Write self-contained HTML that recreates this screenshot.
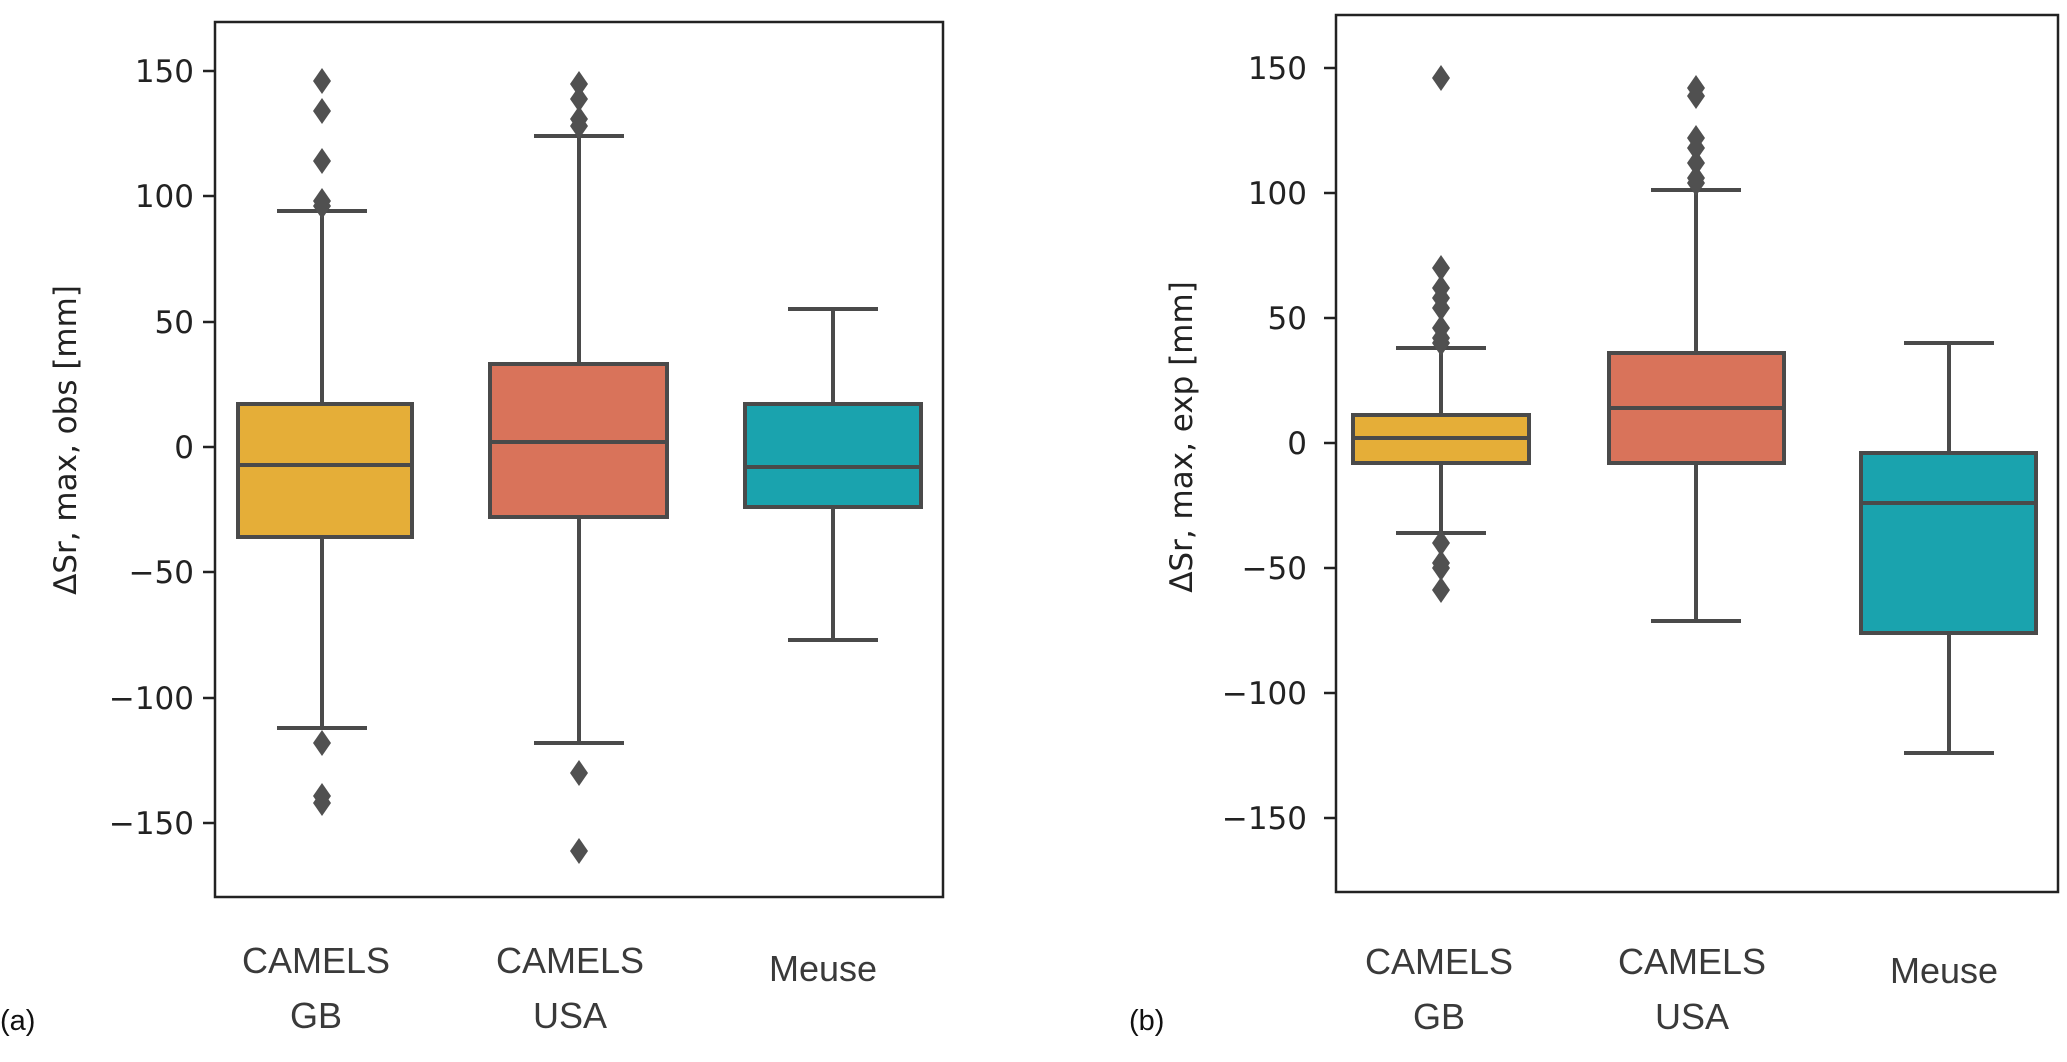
<!DOCTYPE html>
<html><head><meta charset="utf-8"><style>
html,body{margin:0;padding:0;background:#fff;}
svg text{font-family:"Liberation Sans",sans-serif;}
svg text.dv{font-family:"DejaVu Sans",sans-serif;}
</style></head><body>
<svg width="2067" height="1057" viewBox="0 0 2067 1057" xmlns="http://www.w3.org/2000/svg">
<defs>
<path id="d" d="M0,-13 L9,0 L0,13 L-9,0 Z" fill="#505050"/>
</defs>
<g stroke="#4a4a4a" stroke-width="4" fill="none">
 <line x1="322" y1="211" x2="322" y2="404"/><line x1="322" y1="537" x2="322" y2="728"/>
 <line x1="277" y1="211" x2="367" y2="211"/><line x1="277" y1="728" x2="367" y2="728"/>
 <rect x="238" y="404" width="174" height="133" fill="#e5ae38"/>
 <line x1="238" y1="465" x2="412" y2="465"/>
 <line x1="579" y1="136" x2="579" y2="364"/><line x1="579" y1="517" x2="579" y2="743"/>
 <line x1="534" y1="136" x2="624" y2="136"/><line x1="534" y1="743" x2="624" y2="743"/>
 <rect x="490" y="364" width="177" height="153" fill="#d9735a"/>
 <line x1="490" y1="442" x2="667" y2="442"/>
 <line x1="833" y1="309" x2="833" y2="404"/><line x1="833" y1="507" x2="833" y2="640"/>
 <line x1="788" y1="309" x2="878" y2="309"/><line x1="788" y1="640" x2="878" y2="640"/>
 <rect x="745" y="404" width="176" height="103" fill="#1aa3ae"/>
 <line x1="745" y1="467" x2="921" y2="467"/>
</g>
<g>
 <use href="#d" x="322" y="81"/><use href="#d" x="322" y="111"/><use href="#d" x="322" y="161"/><use href="#d" x="322" y="201"/><use href="#d" x="322" y="206"/>
 <use href="#d" x="322" y="743"/><use href="#d" x="322" y="796"/><use href="#d" x="322" y="803"/>
 <use href="#d" x="579" y="84"/><use href="#d" x="579" y="99"/><use href="#d" x="579" y="119"/><use href="#d" x="579" y="126"/>
 <use href="#d" x="579" y="773"/><use href="#d" x="579" y="851"/>
</g>
<rect x="215" y="22" width="728" height="875" fill="none" stroke="#222" stroke-width="2.5"/>
<g stroke="#222" stroke-width="2.5">
 <line x1="203" y1="71" x2="215" y2="71"/><line x1="203" y1="196" x2="215" y2="196"/><line x1="203" y1="322" x2="215" y2="322"/>
 <line x1="203" y1="447" x2="215" y2="447"/><line x1="203" y1="572" x2="215" y2="572"/><line x1="203" y1="698" x2="215" y2="698"/><line x1="203" y1="823" x2="215" y2="823"/>
</g>
<g font-size="31" fill="#222" text-anchor="end">
 <text class="dv" x="194" y="82">150</text><text class="dv" x="194" y="207">100</text><text class="dv" x="194" y="333">50</text><text class="dv" x="194" y="458">0</text>
 <text class="dv" x="194" y="583">−50</text><text class="dv" x="194" y="709">−100</text><text class="dv" x="194" y="834">−150</text>
</g>
<text class="dv" transform="translate(76,440) rotate(-90)" text-anchor="middle" font-size="31" fill="#222">ΔSr, max, obs [mm]</text>
<g font-size="36" fill="#3a3a3a" text-anchor="middle">
 <text x="316" y="973">CAMELS</text><text x="316" y="1028">GB</text>
 <text x="570" y="973">CAMELS</text><text x="570" y="1028">USA</text>
 <text x="823" y="981">Meuse</text>
</g>
<text x="0" y="1030" font-size="29" fill="#111">(a)</text>

<g stroke="#4a4a4a" stroke-width="4" fill="none">
 <line x1="1441" y1="348" x2="1441" y2="415"/><line x1="1441" y1="463" x2="1441" y2="533"/>
 <line x1="1396" y1="348" x2="1486" y2="348"/><line x1="1396" y1="533" x2="1486" y2="533"/>
 <rect x="1353" y="415" width="176" height="48" fill="#e5ae38"/>
 <line x1="1353" y1="438" x2="1529" y2="438"/>
 <line x1="1696" y1="190" x2="1696" y2="353"/><line x1="1696" y1="463" x2="1696" y2="621"/>
 <line x1="1651" y1="190" x2="1741" y2="190"/><line x1="1651" y1="621" x2="1741" y2="621"/>
 <rect x="1609" y="353" width="175" height="110" fill="#d9735a"/>
 <line x1="1609" y1="408" x2="1784" y2="408"/>
 <line x1="1949" y1="343" x2="1949" y2="453"/><line x1="1949" y1="633" x2="1949" y2="753"/>
 <line x1="1904" y1="343" x2="1994" y2="343"/><line x1="1904" y1="753" x2="1994" y2="753"/>
 <rect x="1861" y="453" width="175" height="180" fill="#1aa3ae"/>
 <line x1="1861" y1="503" x2="2036" y2="503"/>
</g>
<g>
 <use href="#d" x="1441" y="78"/>
 <use href="#d" x="1441" y="268"/><use href="#d" x="1441" y="288"/><use href="#d" x="1441" y="298"/><use href="#d" x="1441" y="308"/><use href="#d" x="1441" y="328"/><use href="#d" x="1441" y="338"/><use href="#d" x="1441" y="343"/>
 <use href="#d" x="1441" y="543"/><use href="#d" x="1441" y="563"/><use href="#d" x="1441" y="568"/><use href="#d" x="1441" y="590"/>
 <use href="#d" x="1696" y="88"/><use href="#d" x="1696" y="96"/><use href="#d" x="1696" y="138"/><use href="#d" x="1696" y="148"/><use href="#d" x="1696" y="163"/><use href="#d" x="1696" y="178"/><use href="#d" x="1696" y="183"/>
</g>
<rect x="1336" y="15" width="722" height="877" fill="none" stroke="#222" stroke-width="2.5"/>
<g stroke="#222" stroke-width="2.5">
 <line x1="1324" y1="68" x2="1336" y2="68"/><line x1="1324" y1="193" x2="1336" y2="193"/><line x1="1324" y1="318" x2="1336" y2="318"/>
 <line x1="1324" y1="443" x2="1336" y2="443"/><line x1="1324" y1="568" x2="1336" y2="568"/><line x1="1324" y1="693" x2="1336" y2="693"/><line x1="1324" y1="818" x2="1336" y2="818"/>
</g>
<g font-size="31" fill="#222" text-anchor="end">
 <text class="dv" x="1307" y="79">150</text><text class="dv" x="1307" y="204">100</text><text class="dv" x="1307" y="329">50</text><text class="dv" x="1307" y="454">0</text>
 <text class="dv" x="1307" y="579">−50</text><text class="dv" x="1307" y="704">−100</text><text class="dv" x="1307" y="829">−150</text>
</g>
<text class="dv" transform="translate(1192,437) rotate(-90)" text-anchor="middle" font-size="31" fill="#222">ΔSr, max, exp [mm]</text>
<g font-size="36" fill="#3a3a3a" text-anchor="middle">
 <text x="1439" y="974">CAMELS</text><text x="1439" y="1029">GB</text>
 <text x="1692" y="974">CAMELS</text><text x="1692" y="1029">USA</text>
 <text x="1944" y="983">Meuse</text>
</g>
<text x="1129" y="1030" font-size="29" fill="#111">(b)</text>
</svg>
</body></html>
